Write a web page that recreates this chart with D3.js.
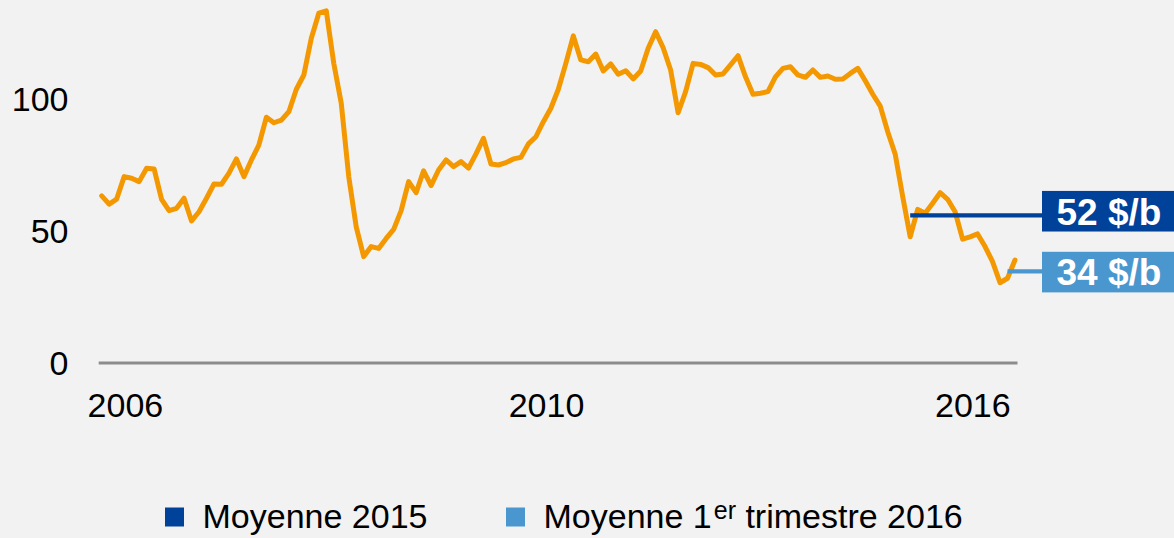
<!DOCTYPE html>
<html>
<head>
<meta charset="utf-8">
<script src="https://cdn.jsdelivr.net/npm/d3@7"></script>
<style>
  html, body { margin: 0; padding: 0; background: #f2f2f2; }
  svg { display: block; }
  text { font-family: "Liberation Sans", Arial, sans-serif; }
</style>
</head>
<body>
<svg id="chart" width="1174" height="538"></svg>
<script>
// ---- Data (monthly Brent price, $/b, Jan 2006 .. Mar 2016) ----
const startMonth = "2006-01";
const prices = [
  63.3, 60.2, 62.1, 70.6, 70.0, 68.7, 73.8, 73.5, 62.0, 57.7, 58.6, 62.4,
  53.8, 57.3, 62.4, 67.8, 67.7, 71.9, 77.3, 70.6, 76.9, 82.6, 93.1, 91.0,
  92.0, 95.2, 103.7, 109.1, 123.0, 132.5, 133.4, 113.5, 98.4, 70.6, 51.6, 40.3,
  44.1, 43.4, 47.2, 50.6, 57.7, 68.7, 64.5, 72.8, 67.2, 73.1, 76.9, 74.4,
  76.3, 73.8, 79.2, 85.1, 75.4, 75.0, 75.9, 77.3, 77.9, 83.0, 85.7, 91.4,
  96.5, 103.7, 113.5, 123.9, 114.8, 114.1, 117.0, 110.6, 113.3, 109.4, 110.7, 107.6,
  110.6, 119.2, 125.5, 119.4, 111.0, 94.8, 102.8, 113.5, 113.1, 111.9, 109.1, 109.5,
  112.9, 116.4, 108.4, 101.8, 102.2, 102.8, 108.4, 111.6, 112.2, 109.1, 108.2, 111.0,
  108.2, 108.7, 107.5, 107.6, 109.7, 111.6, 106.9, 101.8, 97.3, 87.6, 79.1, 63.0,
  47.8, 58.2, 56.7, 60.5, 64.5, 62.0, 57.3, 46.9, 47.8, 48.9, 44.1, 38.4,
  30.4, 32.1, 39.0
];
const yTicks = [0, 50, 100];
const xTickLabels = ["2006", "2010", "2016"];
const xTickMonthIndex = [3.1, 59.35, 116.3];

// Averages annotation
const avgLabels = ["52 $/b", "34 $/b"];
const avgLineValues = [55.9, 34.7];
const avgStartIndex = [108, 121];
const legendLabels = ["Moyenne 2015", "Moyenne 1er trimestre 2016"];
const avgColors = ["#00419a", "#4a97cf"];

// ---- Chart ----
const svg = d3.select("#chart");
const x = d3.scaleLinear().domain([0, prices.length - 1]).range([101.7, 1015]);
const y = d3.scaleLinear().domain([0, 100]).range([363, 99]);
const FS = 34;

// background
svg.append("rect").attr("width", 1174).attr("height", 538).attr("fill", "#f2f2f2");

// Y axis labels
const yAxis = d3.axisLeft(y).tickValues(yTicks).tickSize(0).tickPadding(0);
const gy = svg.append("g").attr("transform", "translate(68.5,0)").call(yAxis);
gy.select(".domain").remove();
gy.selectAll("text")
  .attr("font-family", "'Liberation Sans', Arial, sans-serif")
  .attr("font-size", FS).attr("fill", "#000").attr("dy", "0.35em");

// baseline
svg.append("line")
  .attr("x1", x(0) - 3).attr("x2", x(prices.length - 1) + 2.5)
  .attr("y1", y(0)).attr("y2", y(0))
  .attr("stroke", "#8c8c8c").attr("stroke-width", 3);

// X axis labels
const xAxis = d3.axisBottom(x).tickValues(xTickMonthIndex)
  .tickFormat((d, i) => xTickLabels[i]).tickSize(0).tickPadding(0);
const gx = svg.append("g").attr("transform", "translate(0,416.5)").call(xAxis);
gx.select(".domain").remove();
gx.selectAll("text")
  .attr("font-family", "'Liberation Sans', Arial, sans-serif")
  .attr("font-size", FS).attr("fill", "#000").attr("dy", 0).attr("y", 0);

// price line
const line = d3.line().x((d, i) => x(i)).y(d => y(d)).curve(d3.curveLinear);
svg.append("path").datum(prices)
  .attr("d", line).attr("fill", "none")
  .attr("stroke", "#f39800").attr("stroke-width", 5)
  .attr("stroke-linejoin", "round").attr("stroke-linecap", "round");

// average lines and boxes
const boxX = 1042, boxW = 132, boxH = 40.6;
const boxOffsets = [-4.2, 0.7];
avgLabels.forEach((lab, i) => {
  const ly = y(avgLineValues[i]);
  svg.append("line")
    .attr("x1", x(avgStartIndex[i])).attr("x2", boxX)
    .attr("y1", ly).attr("y2", ly)
    .attr("stroke", avgColors[i]).attr("stroke-width", 4.4);
  const cy = ly + boxOffsets[i];
  svg.append("rect")
    .attr("x", boxX).attr("y", cy - boxH / 2)
    .attr("width", boxW).attr("height", boxH)
    .attr("fill", avgColors[i]);
  svg.append("text")
    .attr("x", boxX + boxW / 2 + 1).attr("y", cy + 13.4)
    .attr("text-anchor", "middle")
    .attr("font-size", 37).attr("font-weight", "bold").attr("fill", "#fff")
    .text(lab);
});

// legend
const legendX = [165, 506];
legendLabels.forEach((lab, i) => {
  svg.append("rect")
    .attr("x", legendX[i]).attr("y", 507.5).attr("width", 19).attr("height", 19)
    .attr("fill", avgColors[i]);
  const t = svg.append("text")
    .attr("x", legendX[i] + 37.5).attr("y", 527.5)
    .attr("font-size", FS).attr("fill", "#000");
  const m = lab.match(/^(.*\d)(er)( .*)$/);
  if (m) {
    t.append("tspan").text(m[1]);
    t.append("tspan").attr("font-size", 25).attr("dx", 2).attr("dy", -9).text(m[2]);
    t.append("tspan").attr("dy", 9).text(m[3]);
  } else {
    t.text(lab);
  }
});
</script>
</body>
</html>
